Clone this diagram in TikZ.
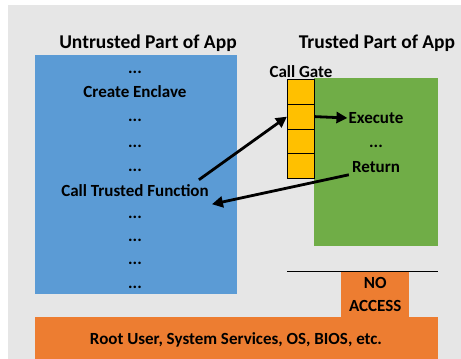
\documentclass[tikz,border=0pt]{standalone}
\usepackage{fontspec}
\setmainfont{Carlito}
\usepackage{tikz}
\usetikzlibrary{positioning, arrows.meta}

\definecolor{bgGray}{HTML}{E6E6E6}
\definecolor{appBlue}{HTML}{5B9BD5}
\definecolor{appGreen}{HTML}{70AD47}
\definecolor{appOrange}{HTML}{ED7D31}
\definecolor{gateYellow}{HTML}{FFC000}

\begin{document}
\begin{tikzpicture}[
    x=1pt, y=-1pt,
    region/.style={inner sep=0pt, anchor=north west},
    title/.style={font=\fontsize{19.5}{22}\selectfont\bfseries},
    txt/.style={font=\fontsize{17}{19}\selectfont\bfseries, inner sep=1pt},
    cell/.style={draw, line width=1pt, fill=gateYellow, minimum width=27pt,
                 minimum height=24.75pt, inner sep=0pt, anchor=north west},
    arr/.style={-{Triangle[length=11pt, width=11pt]}, line width=2.8pt},
]

% background
\useasboundingbox (0,0) rectangle (461,359);
\fill[white] (0,0) rectangle (461,359);
\fill[bgGray] (8,5) rectangle (461,359);

% boxes
\node[region, fill=appBlue, minimum width=202pt, minimum height=239pt] (untrusted) at (35,55) {};
\node[region, fill=appGreen, minimum width=124pt, minimum height=168pt] (trusted) at (314,78) {};
\node[region, fill=appOrange, minimum width=403pt, minimum height=42pt] (root) at (35,317) {};
\node[region, fill=appOrange, minimum width=68pt, minimum height=47pt] (noacc) at (341,271) {};

% titles
\node[title] (utitle) at (148,43) {Untrusted Part of App};
\node[title] (ttitle) at (377,43) {Trusted Part of App};

% untrusted code
\node[txt] (d1) at (135,72) {...};
\node[txt] (create) at (135,92) {Create Enclave};
\node[txt] (d2) at (135,120) {...};
\node[txt] (d3) at (135,146) {...};
\node[txt] (d4) at (135,170) {...};
\node[txt] (call) at (135,191) {Call Trusted Function};
\node[txt] (d5) at (135,217) {...};
\node[txt] (d6) at (135,240) {...};
\node[txt] (d7) at (135,263) {...};
\node[txt] (d8) at (135,287) {...};

% call gate
\foreach \i in {1,...,4}
  \node[cell] (g\i) at (287,{79+(\i-1)*24.75}) {};
\node[txt, above=0pt of g1] (gate) {Call Gate};

% trusted code
\node[txt] (exec) at (376,118) {Execute};
\node[txt] (d9) at (376,146) {...};
\node[txt] (ret) at (376,167) {Return};

% no access
\node[txt, align=center, font=\fontsize{17}{23}\selectfont\bfseries] (natext) at (noacc.center) {NO\\ACCESS};
\node[txt] (roottext) at (236,340) {Root User, System Services, OS, BIOS, etc.};
\coordinate (barL) at (287,271);
\coordinate (barR) at (438,271);
\draw[line width=1pt] (barL) -- (barR);

% arrows
\draw[arr] ([xshift=-11pt, yshift=4pt]call.north east) -- (g2.west);
\draw[arr] (g2.east) -- (exec.west);
\draw[arr] ([xshift=-2pt, yshift=-1pt]ret.south west) -- ([xshift=2pt,yshift=-6pt]call.south east);

\end{tikzpicture}
\end{document}
